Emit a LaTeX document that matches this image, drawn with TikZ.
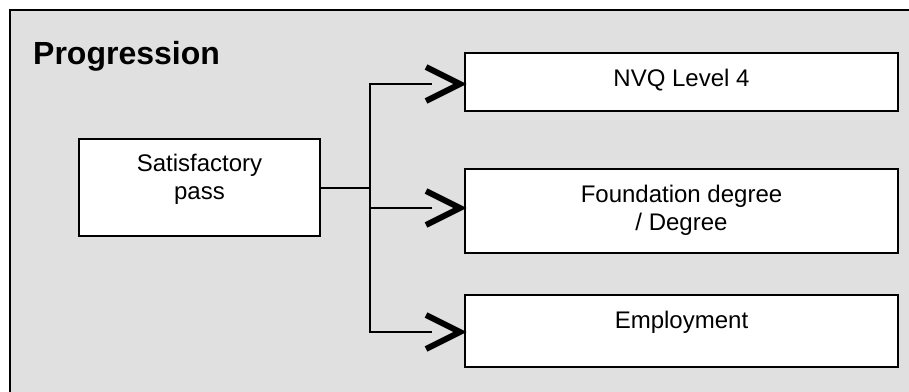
\documentclass[tikz,border=0pt]{standalone}
\usepackage{fontspec}
\setmainfont{Liberation Sans}
\definecolor{panelgray}{RGB}{224,224,224}
\tikzset{
  boxstyle/.style={draw=black, line width=2pt, fill=white, rectangle, inner sep=0pt},
  txt/.style={font=\fontsize{24}{27.5}\selectfont, align=center, inner sep=0pt, anchor=base},
  conn/.style={draw=black, line width=2.2pt},
  chev/.style={draw=black, line width=6pt, line cap=butt, line join=miter},
}
\begin{document}
\begin{tikzpicture}[x=1pt,y=-1pt]
\useasboundingbox (0,0) rectangle (909,391);
\clip (0,0) rectangle (909,391);
\fill[white] (0,0) rectangle (909,391);
\draw[fill=panelgray, line width=2pt] (9.5,9.5) rectangle (930,420);
\node[font=\fontsize{32}{36}\bfseries, inner sep=0pt, anchor=base west] (title) at (33,64) {Progression};
% boxes
\node[boxstyle, minimum width=241pt, minimum height=97pt] (sat) at (199.5,187.5) {};
\node[boxstyle, minimum width=433pt, minimum height=58pt] (b1) at (681.5,82) {};
\node[boxstyle, minimum width=433pt, minimum height=84pt] (b2) at (681.5,211) {};
\node[boxstyle, minimum width=433pt, minimum height=72pt] (b3) at (681.5,331) {};
% texts
\node[txt] (satt) at (199.5,199) {Satisfactory\\pass};
\node[txt] (b1t) at (681.5,86) {NVQ Level 4};
\node[txt] (b2t) at (681.5,230) {Foundation degree\\/ Degree};
\node[txt] (b3t) at (681.5,328) {Employment};
% connectors
\coordinate (j) at (370,188);
\coordinate (t1) at (460,84);
\coordinate (t2) at (460,208);
\coordinate (t3) at (460,332);
\coordinate (j1) at (370,84);
\coordinate (j2) at (370,208);
\coordinate (j3) at (370,332);
\draw[conn] (sat.east |- j) -- (j);
\draw[conn, line cap=butt] (j1) -- (j3);
\draw[conn] ([xshift=-1.1pt]j1) -- ([xshift=-28pt]t1);
\draw[conn] (j2) -- ([xshift=-28pt]t2);
\draw[conn] ([xshift=-1.1pt]j3) -- ([xshift=-28pt]t3);
\foreach \t in {t1,t2,t3}{
  \draw[chev] ([shift={(-34,-17)}]\t) -- (\t) -- ([shift={(-34,17)}]\t);
}
\end{tikzpicture}
\end{document}
